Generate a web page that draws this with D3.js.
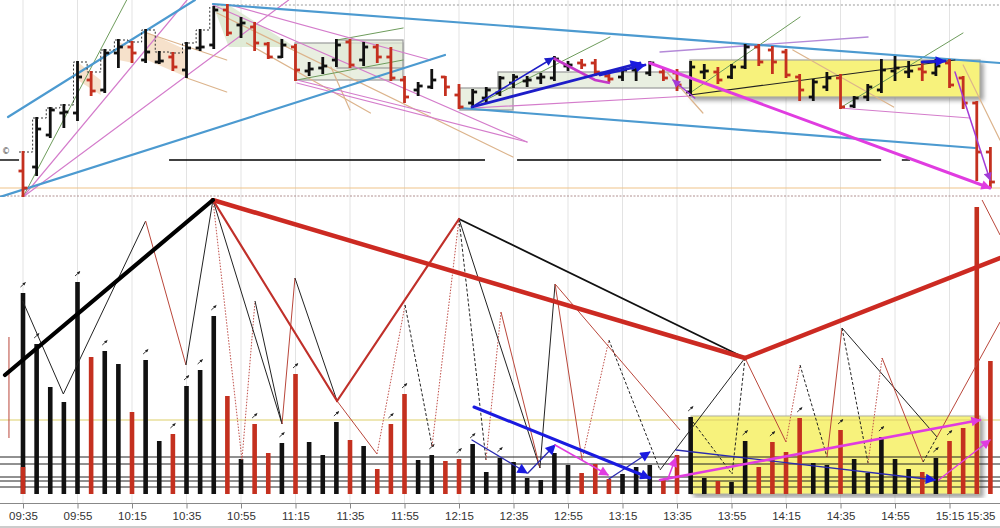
<!DOCTYPE html>
<html><head><meta charset="utf-8">
<script src="https://cdn.jsdelivr.net/npm/d3@7"></script>
<style>body{margin:0;background:#fff}svg{display:block}</style>
</head><body><svg id="c" width="1000" height="528"></svg>
<script>
// ---------------- DATA ----------------
const tickLabels = ["09:35","09:55","10:15","10:35","10:55","11:15","11:35","11:55","12:15","12:35","12:55","13:15","13:35","13:55","14:15","14:35","14:55","15:15","15:35"];
const barHigh = [1284.3,1287.7,1288.7,1289.0,1293.3,1292.3,1294.5,1295.5,1295.3,1296.5,
 1294.3,1294.2,1295.2,1296.5,1298.8,1299.0,1297.7,1297.2,1295.2,1295.5,
 1295.0,1293.2,1293.7,1295.5,1295.5,1295.2,1295.0,1294.7,1291.8,1291.2,
 1292.5,1291.8,1291.0,1290.5,1290.7,1291.8,1292.0,1291.8,1292.1,1293.8,
 1293.3,1293.5,1293.5,1292.0,1292.7,1293.0,1293.3,1292.5,1292.5,1293.3,
 1293.0,1292.7,1293.0,1295.0,1295.0,1294.8,1294.5,1292.0,1291.5,1292.2,
 1292.0,1289.8,1291.0,1293.5,1293.8,1293.3,1293.2,1293.5,1293.5,1291.8,
 1289.3,1284.7];
const barLow = [1279.8,1282.0,1285.8,1286.8,1287.5,1290.0,1290.3,1292.8,1293.3,1293.3,
 1293.2,1292.5,1291.8,1294.5,1294.7,1296.0,1295.8,1294.5,1293.7,1293.8,
 1291.5,1292.0,1292.2,1292.9,1292.8,1293.0,1293.3,1291.5,1289.3,1290.0,
 1290.7,1290.0,1288.7,1288.8,1289.3,1290.0,1290.8,1290.9,1291.2,1291.5,
 1292.5,1292.7,1292.0,1291.3,1291.5,1291.5,1292.0,1291.5,1290.5,1290.0,
 1291.7,1291.2,1291.7,1292.7,1293.0,1292.2,1291.8,1289.5,1289.5,1290.5,
 1288.7,1288.8,1289.5,1290.3,1291.5,1291.8,1291.5,1292.0,1290.8,1288.7,
 1281.5,1280.8];
const barOpen = [1282.4,1282.8,1286.0,1288.2,1288.2,1291.5,1290.5,1294.2,1294.8,1293.5,
 1293.3,1293.8,1292.5,1294.7,1295.0,1298.5,1297.0,1296.8,1295.1,1293.8,
 1294.8,1292.4,1292.7,1293.5,1295.3,1293.5,1294.8,1293.8,1291.5,1290.5,
 1290.8,1291.8,1290.0,1289.2,1289.7,1290.2,1291.2,1291.4,1291.7,1291.7,
 1292.9,1293.2,1293.2,1291.9,1291.8,1292.5,1292.2,1292.3,1292.2,1290.3,
 1292.3,1292.3,1291.8,1292.8,1294.8,1294.5,1294.3,1291.8,1289.8,1290.8,
 1291.7,1288.9,1289.8,1290.5,1292.4,1292.3,1292.6,1292.2,1293.2,1291.7,
 1289.2,1284.3];
const barClose = [1280.7,1286.6,1288.5,1288.3,1291.8,1290.4,1294.2,1294.8,1294.2,1294.3,
 1293.4,1292.8,1294.7,1294.8,1298.5,1296.2,1297.2,1295.2,1293.8,1295.0,
 1292.5,1292.6,1292.9,1295.0,1293.0,1294.8,1293.8,1291.7,1289.8,1290.9,
 1291.5,1290.8,1288.8,1290.3,1290.5,1291.7,1291.8,1291.5,1291.8,1293.6,
 1293.0,1293.0,1292.3,1291.6,1292.5,1292.8,1293.2,1291.7,1291.0,1292.8,
 1292.4,1291.5,1292.8,1294.8,1293.3,1293.3,1292.0,1290.5,1291.3,1291.7,
 1288.8,1289.7,1290.8,1292.5,1292.7,1292.4,1292.3,1292.9,1291.0,1289.2,
 1284.3,1281.3];
const volume = [201,150,107,92,212,137,143,130,82,134,
 53,60,108,124,178,98,35,70,41,51,
 120,52,39,72,54,48,25,70,100,34,
 39,33,35,50,22,36,32,16,14,41,
 29,21,30,15,20,27,29,14,39,77,
 16,13,12,53,27,52,42,76,31,29,
 64,35,21,57,35,25,22,36,53,66,
 287,133];
const volDir = ["u","u","u","u","u","d","u","u","d","u",
 "u","d","u","u","u","d","u","d","d","u",
 "d","u","u","u","d","u","d","d","d","u",
 "u","d","d","u","u","u","u","u","u","u",
 "u","d","d","d","u","u","u","d","d","u",
 "u","d","u","u","d","d","d","d","u","u",
 "d","u","u","u","u","u","d","u","d","d",
 "d","d"];
const volMarkers = [0,1,4,6,9,11,12,13,14,17,19,20,23,27,28,30,32,33,35,49,53,55,57,60,63,67,68];
const firstBarDownPart = 27; // red lower portion of the first volume bar

// top-panel studies: [i1, p1, i2, p2]
const blueLines = [[-1.1,1287.8,12.62,1299.5],[-1.69,1279.8,30.97,1294.0],[13.94,1299.1,71.7,1293.2],[32.07,1288.7,69.87,1284.7]];
const pinkLines = [[0,1279.8,12.04,1299.5],[0,1279.8,19.5,1299.5],[13.94,1299.0,36.99,1285.3],[20.1,1291.2,37.0,1285.3],
 [20.1,1291.5,29.9,1288.2],[33.0,1288.7,48.95,1289.9],[59.96,1288.7,69.5,1287.7],[15.2,1299.0,29.9,1293.5]];
const greenLines = [[0,1279.8,7.61,1299.5],[20.1,1291.5,27.9,1293.5],[23.05,1295.5,27.9,1296.7],[32.95,1288.8,43.08,1295.8],
 [48.95,1290.2,57.03,1297.8],[59.96,1288.7,68.99,1296.2]];
const tanLines = [[14.24,1298.2,35.96,1283.8],[9.08,1296.2,14.95,1293.5],[12.02,1291.7,14.95,1290.3],[16.4,1295.2,25.5,1288.2],
 [56.5,1294.5,63.9,1288.8],[69.0,1293.0,71.7,1285.5],[47.3,1292.2,49.9,1288.2],[22.6,1292.8,24.0,1288.5]];
const lavenderLines = [[46.75,1294.3,62.02,1295.8]];
const greenBoxes = [[19.96,1295.2,27.89,1291.5],[23.05,1295.5,27.89,1292.7],[32.07,1290.7,35.96,1288.5],[34.86,1292.3,48.95,1290.7]];
const greenFlags = [[[13.94,1299.0],[15.1,1299.0],[19.96,1294.8],[15.1,1294.8]]];
const peachFlags = [[[4.0,1293.3],[5.7,1291.5],[5.7,1290.0],[4.0,1291.5]],
 [[7.0,1295.3],[8.1,1294.8],[8.1,1293.2],[7.0,1293.5]],
 [[9.1,1296.3],[12.0,1294.5],[12.0,1291.8],[9.1,1293.5]]];
const yellowBoxTop = [48.95,1293.5,70.24,1289.8];
const blackTrend = [[48.95,1290.0,68.4,1293.5]];
const navyArrowsThin = [[32.95,1288.8,38.9,1293.7]];
const navyArrowsThick = [[32.95,1288.8,45.28,1293.2],[42.35,1292.0,45.65,1293.0],[65.98,1293.3,67.67,1293.4]];
const magentaArrowTop = [[46.0,1293.2,70.97,1280.7]];
const purpleArrowTop = [[68.4,1292.3,70.97,1281.5],[49.3,1289.7,47.7,1291.5]];
const magentaPath = [[38.9,1293.7],[41.98,1291.5],[43.08,1291.2]];
const refLevel = 1283.5, refSegments = [[-1.69,-0.29],[10.72,33.91],[36.26,62.98],[64.5,65.1]];
const orangeLevel = 1280.7, bottomLevel = 1279.9, topLevel = 1299.0;

// lower-panel studies (volume units)
const thickBlack = [[-1.32,119,13.94,294]];
const thickRed = [[13.94,294,52.99,136],[52.99,136,71.7,236]];
const midRed = [[13.94,294,23.05,93],[23.05,93,32.0,275]];
const midBlack = [[32.0,275,52.99,136]];
const zigzag = [
 [-1.03,157,-1.03,56,"r"],
 [-0.02,193,2.96,100,"k"],[2.96,100,9.0,273,"k"],[9.0,273,11.96,129,"r"],[11.96,129,13.94,294,"k"],
 [13.94,294,16.07,34,"rd"],[16.07,34,17.03,193,"rd"],[17.03,193,19.01,70,"k"],[13.94,294,19.01,70,"k"],
 [19.01,70,19.96,216,"r"],[19.96,216,23.05,93,"k"],[23.05,93,25.98,40,"r"],[25.98,40,28.04,189,"rd"],
 [28.04,189,30.02,48,"kd"],[30.02,48,32.0,275,"rd"],[32.0,275,33.98,34,"kd"],[32.0,275,37.94,26,"k"],
 [33.98,34,35.08,182,"rd"],[35.08,182,37.94,26,"r"],[37.94,26,39.05,210,"k"],[39.05,210,41.03,34,"r"],
 [41.03,34,43.0,154,"rd"],[43.0,154,46.75,24,"kd"],[39.05,210,48.22,64,"r"],[46.75,24,52.99,136,"k"],
 [52.99,136,52.04,20,"kd"],[49.17,72,52.04,20,"kd"],[52.99,136,56.0,52,"r"],[56.0,52,57.03,129,"rd"],
 [57.03,129,59.01,37,"kd"],[59.01,37,60.11,166,"r"],[60.11,166,67.08,57,"k"],[60.11,166,62.02,31,"kd"],
 [62.02,31,63.05,136,"rd"],[63.05,136,66.06,32,"r"],[66.06,32,67.08,57,"kd"],[67.08,57,71.71,172,"r"],
 [70.39,294,71.71,259,"r"]];
const blueArrowThick = [[33.1,87,46.0,16]];
const blueArrowsThin = [[32.95,54,36.99,21],[37.06,21,39.05,49],[43.0,15,46.0,42],[47.93,44,66.94,14]];
const magentaArrowsThin = [[39.05,49,42.94,19],[47.3,14,47.9,36],[67.2,14,70.97,54]];
const magentaArrowThick = [[46.75,14,70.24,74]];
const yellowBoxLow = [49.03,78,70.24,0];
const hLevels = [37,30,17,13,7];
const yellowLevel = 74;

// ---------------- CHART ----------------
const svg = d3.select("#c");
const W = 1000;
const x = d3.scaleLinear().domain([0,71]).range([23,990.4]);
const yP = d3.scaleLinear().domain([1280,1299]).range([195,5]);
const yV = d3.scaleLinear().domain([0,294]).range([494,200]);
const RED = "#c4301f", BLK = "#111";

const defs = svg.append("defs");
defs.append("clipPath").attr("id","cTop").append("rect").attr("x",0).attr("y",0).attr("width",W).attr("height",197);
defs.append("clipPath").attr("id","cLow").append("rect").attr("x",0).attr("y",198).attr("width",W).attr("height",300);
const flt = defs.append("filter").attr("id","sh").attr("x","-5%").attr("y","-10%").attr("width","115%").attr("height","130%");
flt.append("feDropShadow").attr("dx",3).attr("dy",3).attr("stdDeviation",2).attr("flood-color","#777").attr("flood-opacity",0.7);
function marker(id,color,size){
  defs.append("marker").attr("id",id).attr("viewBox","0 0 10 10").attr("refX",9).attr("refY",5)
   .attr("markerUnits","userSpaceOnUse").attr("markerWidth",size).attr("markerHeight",size*0.8).attr("orient","auto")
   .append("path").attr("d","M0,0L10,5L0,10Z").attr("fill",color);
}
marker("mNavy","#1d1dc8",11); marker("mBlue","#1a1ae0",13); marker("mMag","#e03ce0",12); marker("mPur","#a33bd6",10);
marker("mTiny","#222",4);

// gridlines
const tickIdx = tickLabels.map((d,i)=>i*4);
svg.append("g").selectAll("line").data(tickIdx).join("line")
 .attr("x1",d=>x(d)).attr("x2",d=>x(d)).attr("y1",0).attr("y2",503)
 .attr("stroke","#e3e3e3").attr("stroke-width",1);

// ---------- TOP PANEL ----------
const topG = svg.append("g").attr("clip-path","url(#cTop)");
const seg = (g,data,yS,color,w,dash,mk)=>g.append("g").selectAll("line").data(data).join("line")
 .attr("x1",d=>x(d[0])).attr("y1",d=>yS(d[1])).attr("x2",d=>x(d[2])).attr("y2",d=>yS(d[3]))
 .attr("stroke",color).attr("stroke-width",w).attr("stroke-dasharray",dash||null)
 .attr("marker-end",mk?`url(#${mk})`:null).attr("stroke-linecap","round");

topG.append("g").selectAll("polygon").data(peachFlags).join("polygon")
 .attr("points",d=>d.map(p=>[x(p[0]),yP(p[1])].join(",")).join(" ")).attr("fill","#f4dcc2").attr("opacity",0.85);
topG.append("g").selectAll("polygon").data(greenFlags).join("polygon")
 .attr("points",d=>d.map(p=>[x(p[0]),yP(p[1])].join(",")).join(" ")).attr("fill","#dde9d2").attr("opacity",0.9);
topG.append("g").selectAll("rect").data(greenBoxes).join("rect")
 .attr("x",d=>x(d[0])).attr("y",d=>yP(d[1])).attr("width",d=>x(d[2])-x(d[0])).attr("height",d=>yP(d[3])-yP(d[1]))
 .attr("fill","#dfe8d4").attr("fill-opacity",0.7).attr("stroke","#a0a0a0").attr("stroke-width",1.3);
topG.append("rect").attr("x",x(yellowBoxTop[0])).attr("y",yP(yellowBoxTop[1]))
 .attr("width",x(yellowBoxTop[2])-x(yellowBoxTop[0])).attr("height",yP(yellowBoxTop[3])-yP(yellowBoxTop[1]))
 .attr("fill","#f7f27c").attr("stroke","#a8a8a0").attr("stroke-width",1.2).attr("filter","url(#sh)");

topG.append("line").attr("x1",x(13.94)).attr("x2",W).attr("y1",yP(topLevel)).attr("y2",yP(topLevel))
 .attr("stroke","#999").attr("stroke-dasharray","2,2");
topG.append("line").attr("x1",0).attr("x2",W).attr("y1",yP(orangeLevel)).attr("y2",yP(orangeLevel)).attr("stroke","#efc48a").attr("stroke-width",1.2);
topG.append("line").attr("x1",0).attr("x2",W).attr("y1",yP(bottomLevel)).attr("y2",yP(bottomLevel)).attr("stroke","#b09090").attr("stroke-dasharray","2,1.5");
topG.append("g").selectAll("line").data(refSegments).join("line")
 .attr("x1",d=>x(d[0])).attr("x2",d=>x(d[1])).attr("y1",yP(refLevel)).attr("y2",yP(refLevel)).attr("stroke","#000").attr("stroke-width",1.4);

seg(topG,tanLines,yP,"#dcb48c",1.2);
seg(topG,greenLines,yP,"#6e9c5c",1);
seg(topG,pinkLines,yP,"#d47ccb",1.2);
seg(topG,lavenderLines,yP,"#b48ad8",1.3);
seg(topG,blueLines,yP,"#4c9ad0",2.2);
seg(topG,blackTrend,yP,"#222",1.2);

topG.append("path").datum(barHigh.slice(0,15).map((h,i)=>[i,h]))
 .attr("d",d3.line().x(d=>x(d[0])-4).y(d=>yP(d[1])).curve(d3.curveStepAfter))
 .attr("fill","none").attr("stroke","#333").attr("stroke-width",1).attr("stroke-dasharray","2,2");

const ohlc = topG.append("g");
barHigh.forEach((h,i)=>{
  const c = barClose[i] < barOpen[i] ? RED : BLK;
  const g = ohlc.append("g").attr("stroke",c).attr("stroke-width",2.8);
  g.append("line").attr("x1",x(i)).attr("x2",x(i)).attr("y1",yP(h)-1).attr("y2",yP(barLow[i])+1);
  g.append("line").attr("x1",x(i)-4.5).attr("x2",x(i)).attr("y1",yP(barOpen[i])).attr("y2",yP(barOpen[i]));
  g.append("line").attr("x1",x(i)).attr("x2",x(i)+4.5).attr("y1",yP(barClose[i])).attr("y2",yP(barClose[i]));
});

topG.append("path").datum(magentaPath).attr("d",d3.line().x(d=>x(d[0])).y(d=>yP(d[1])))
 .attr("fill","none").attr("stroke","#c438c8").attr("stroke-width",2.6);
seg(topG,navyArrowsThin,yP,"#1d1dc8",1.5,null,"mNavy");
seg(topG,navyArrowsThick,yP,"#1d1dc8",2.8,null,"mBlue");
seg(topG,purpleArrowTop,yP,"#a33bd6",1.5,null,"mPur");
seg(topG,magentaArrowTop,yP,"#e03ce0",3,null,"mMag");

topG.append("text").attr("x",2).attr("y",154).attr("font-family","DejaVu Sans").attr("font-size",8).attr("fill","#444").text("©");

// ---------- LOWER PANEL ----------
const lowG = svg.append("g").attr("clip-path","url(#cLow)");
lowG.append("rect").attr("x",x(yellowBoxLow[0])).attr("y",yV(yellowBoxLow[1]))
 .attr("width",x(yellowBoxLow[2])-x(yellowBoxLow[0])).attr("height",yV(yellowBoxLow[3])-yV(yellowBoxLow[1]))
 .attr("fill","#f7f27c").attr("stroke","#b0b0a0").attr("stroke-width",1).attr("filter","url(#sh)");
lowG.append("line").attr("x1",0).attr("x2",W).attr("y1",yV(yellowLevel)).attr("y2",yV(yellowLevel)).attr("stroke","#ddd06a").attr("stroke-width",1.2);
lowG.append("g").selectAll("line").data(hLevels).join("line")
 .attr("x1",0).attr("x2",W).attr("y1",d=>yV(d)).attr("y2",d=>yV(d)).attr("stroke","#222").attr("stroke-width",1);

lowG.append("g").selectAll("rect").data(volume).join("rect")
 .attr("x",(d,i)=>x(i)-2.3).attr("width",4.6).attr("y",d=>yV(d)).attr("height",d=>yV(0)-yV(d))
 .attr("fill",(d,i)=>volDir[i]==="d"?RED:BLK);
lowG.append("rect").attr("x",x(0)-2.3).attr("width",4.6).attr("y",yV(firstBarDownPart)).attr("height",yV(0)-yV(firstBarDownPart)).attr("fill",RED);
lowG.append("g").selectAll("line").data(volMarkers).join("line")
 .attr("x1",i=>x(i)-2.5).attr("y1",i=>yV(volume[i])-6).attr("x2",i=>x(i)+2.5).attr("y2",i=>yV(volume[i])-10.5)
 .attr("stroke","#222").attr("stroke-width",0.9).attr("marker-end","url(#mTiny)");

const zs = {k:["#222",1,null], r:["#b9463a",1,null], kd:["#222",1,"3,2"], rd:["#c0504a",1,"1.5,1.5"]};
lowG.append("g").selectAll("line").data(zigzag).join("line")
 .attr("x1",d=>x(d[0])).attr("y1",d=>yV(d[1])).attr("x2",d=>x(d[2])).attr("y2",d=>yV(d[3]))
 .attr("stroke",d=>zs[d[4]][0]).attr("stroke-width",d=>zs[d[4]][1]).attr("stroke-dasharray",d=>zs[d[4]][2]);
seg(lowG,midBlack,yV,"#111",1.8);
seg(lowG,midRed,yV,"#c0302a",2.2);
seg(lowG,thickRed,yV,"#cc2a22",4.5);
seg(lowG,thickBlack,yV,"#000",4.2);
seg(lowG,blueArrowsThin,yV,"#2a2ab0",1.3,null,"mBlue");
seg(lowG,blueArrowThick,yV,"#1a1ae0",3,null,"mBlue");
seg(lowG,magentaArrowsThin,yV,"#e03ce0",1.5,null,"mMag");
seg(lowG,magentaArrowThick,yV,"#e03ce0",2.6,null,"mMag");

// ---------- AXIS ----------
svg.append("line").attr("x1",0).attr("x2",W).attr("y1",503.5).attr("y2",503.5).attr("stroke","#888");
const ax = svg.append("g").attr("transform","translate(0,503.5)")
 .call(d3.axisBottom(x).tickValues(tickIdx).tickFormat((d,i)=>tickLabels[i]).tickSize(5).tickPadding(3));
ax.select(".domain").remove();
ax.selectAll("line").attr("stroke","#888");
ax.selectAll("text").attr("font-family","Liberation Sans, Arial").attr("font-size",11.5).attr("fill","#333");
ax.selectAll(".tick").filter(d=>x(d)>W-20).select("text").attr("text-anchor","end").attr("dx",-5).attr("x",x(72)>W?W-x(72):0);
svg.append("line").attr("x1",0).attr("x2",W).attr("y1",527).attr("y2",527).attr("stroke","#999");
</script></body></html>
